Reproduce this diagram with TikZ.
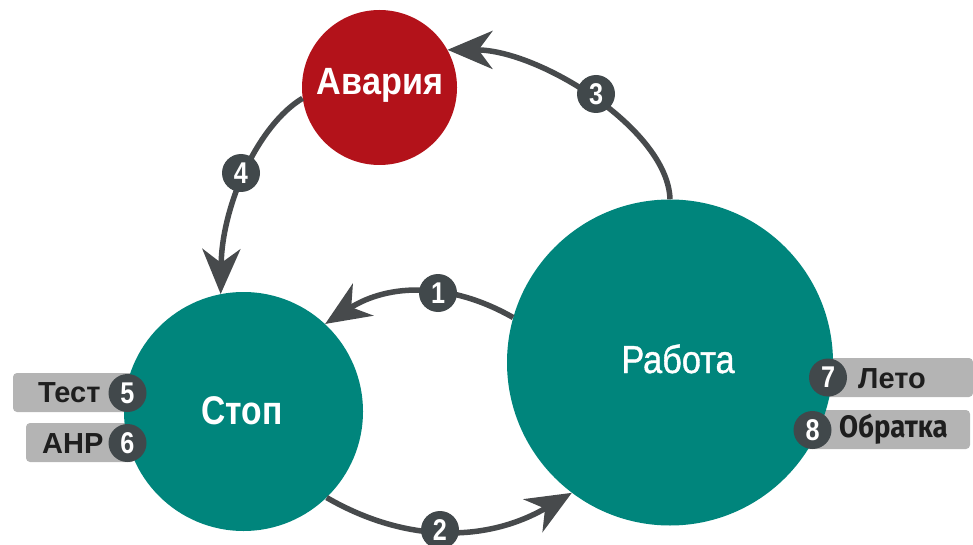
\documentclass[tikz,border=0pt]{standalone}
\usepackage{fontspec}
\setmainfont{Liberation Sans}
\newfontfamily\condfont{Liberation Sans}[FakeStretch=0.84]
\newfontfamily\semifont{Liberation Sans}[FakeStretch=0.9]
\newfontfamily\midfont{Liberation Sans}[FakeStretch=0.88, FakeBold=1]
\newfontfamily\firafont{Fira Sans}[FakeStretch=0.89]
\usetikzlibrary{arrows.meta}
\definecolor{tealc}{HTML}{00857C}
\definecolor{redc}{HTML}{B3121A}
\definecolor{arrc}{HTML}{474A4C}
\definecolor{numc}{HTML}{41484B}
\definecolor{tagc}{HTML}{B4B4B4}
\definecolor{tagtxt}{HTML}{1E1E1E}
\begin{document}
\begin{tikzpicture}[x=1pt,y=-1pt,
  statec/.style={circle, inner sep=0pt, fill=#1},
  num/.style={circle, fill=numc, minimum size=38pt, inner sep=0pt, text=white,
    font=\condfont\bfseries\fontsize{30}{30}\selectfont},
  tagbox/.style={fill=tagc, rounded corners=4pt},
  conn/.style={draw=arrc, line width=5.5pt,
    -{Stealth[length=45pt,width=38pt,inset=14pt]}},
  tagtext/.style={text=tagtxt, anchor=base west, inner sep=0pt,
    font=\bfseries\fontsize{29}{29}\selectfont},
  mainb/.style={text=white, anchor=base, inner sep=0pt,
    font=\semifont\bfseries\fontsize{38}{38}\selectfont}]
\useasboundingbox (0,0) rectangle (973,545);
% tags
\fill[tagbox] (13,373) rectangle (135,412);
\fill[tagbox] (26,423) rectangle (135,462);
\fill[tagbox] (815,358) rectangle (973,397);
\fill[tagbox] (800,410) rectangle (970,449);
% states
\node[statec=redc, minimum size=155pt] (av) at (379.5,87.5) {};
\node[statec=tealc, minimum size=239pt] (stop) at (243.5,411.5) {};
\node[statec=tealc, minimum size=326pt] (rab) at (670,362.5) {};
% connectors
\draw[conn] (rab.164) .. controls (451,282) and (389,283) .. (stop.47);
\draw[conn] (stop.-46) .. controls (407,544) and (488,542) .. (rab.-127.5);
\draw[conn] (rab.90) .. controls (668,130) and (540,50) .. (av.29);
\draw[conn] (av.-172) .. controls (258,125) and (222,205) .. (stop.101);
% numbers
\node[num] (n1) at (438,293) {1};
\node[num] (n2) at (440,530) {2};
\node[num] (n3) at (596,94) {3};
\node[num] (n4) at (241,173) {4};
\node[num] (n5) at (127.5,393) {5};
\node[num] (n6) at (127.5,443) {6};
\node[num] (n7) at (828,377.5) {7};
\node[num] (n8) at (812.5,430) {8};
% texts
\node[mainb] (tav) at (380,95) {Авария};
\node[mainb, font=\condfont\bfseries\fontsize{40}{40}\selectfont] (tstop) at (242,424) {Стоп};
\node[mainb, font=\midfont\fontsize{39}{39}\selectfont] (trab) at (678,373) {Работа};
\node[tagtext] (t5) at (38,402) {Тест};
\node[tagtext] (t6) at (42,453) {АНР};
\node[tagtext] (t7) at (858,388) {Лето};
\node[tagtext, font=\firafont\bfseries\fontsize{31}{31}\selectfont] (t8) at (839,437) {Обратка};
\end{tikzpicture}
\end{document}
